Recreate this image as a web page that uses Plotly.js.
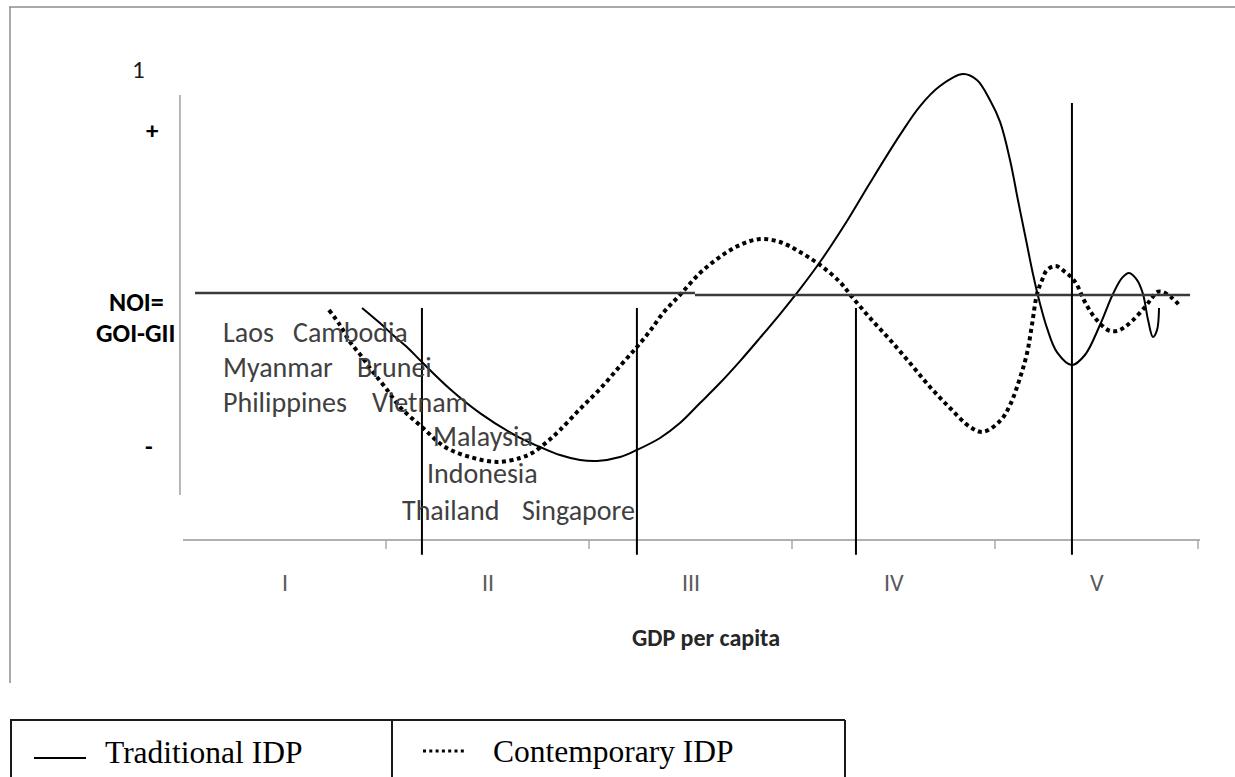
<!DOCTYPE html>
<html>
<head>
<meta charset="utf-8">
<script src="https://cdn.plot.ly/plotly-3.0.1.min.js"></script>
<style>
  html, body { margin: 0; padding: 0; background: #ffffff; }
  #chart { width: 1235px; height: 777px; }
</style>
</head>
<body>
<div id="chart"></div>
<script>
// ---------------- DATA ----------------
// x: GDP per capita in "stage" units (each IDP stage = 1 unit), y: NOI (NOI line = 0, "+" = 1)
const traditionalX = [0.882,0.970,1.034,1.108,1.177,1.315,1.463,1.660,1.759,1.857,
  1.956,2.039,2.153,2.236,2.350,2.448,2.547,2.645,2.744,2.842,
  2.941,3.039,3.138,3.271,3.384,3.532,3.631,3.729,3.842,3.911,
  3.975,4.025,4.074,4.113,4.153,4.187,4.222,4.256,4.305,4.379,
  4.443,4.517,4.581,4.626,4.660,4.700,4.729,4.754,4.778,4.798,4.808];
const traditionalY = [-0.085,-0.177,-0.250,-0.329,-0.415,-0.579,-0.726,-0.878,-0.933,-0.982,
  -1.012,-1.018,-0.994,-0.951,-0.878,-0.787,-0.665,-0.543,-0.409,-0.268,
  -0.122,0.030,0.195,0.445,0.677,0.970,1.146,1.268,1.341,1.305,
  1.183,1.049,0.817,0.573,0.329,0.122,-0.061,-0.207,-0.354,-0.433,
  -0.372,-0.189,0.000,0.098,0.128,0.085,0.000,-0.159,-0.262,-0.220,-0.085];

const contemporaryX = [0.719,0.773,0.823,0.882,0.936,0.995,1.069,1.177,1.291,1.414,
  1.547,1.660,1.719,1.793,1.857,1.956,2.054,2.153,2.236,2.300,
  2.365,2.448,2.547,2.645,2.744,2.842,2.941,3.039,3.138,3.236,
  3.296,3.384,3.483,3.581,3.680,3.778,3.877,3.941,4.025,4.074,
  4.123,4.158,4.182,4.207,4.232,4.256,4.300,4.345,4.379,4.404,
  4.443,4.493,4.557,4.601,4.640,4.680,4.739,4.773,4.798,4.828,4.872,4.911];
const contemporaryY = [-0.098,-0.189,-0.293,-0.384,-0.476,-0.567,-0.689,-0.811,-0.933,-0.994,
  -1.024,-1.000,-0.970,-0.902,-0.829,-0.701,-0.579,-0.439,-0.323,-0.226,
  -0.116,-0.006,0.128,0.226,0.299,0.335,0.317,0.256,0.177,0.073,
  -0.018,-0.146,-0.280,-0.421,-0.567,-0.695,-0.811,-0.841,-0.774,-0.677,
  -0.512,-0.360,-0.189,0.000,0.085,0.146,0.171,0.134,0.098,0.055,
  -0.049,-0.146,-0.220,-0.226,-0.201,-0.159,-0.079,-0.024,0.012,0.012,-0.024,-0.073];

const stageLabels = ['I', 'II', 'III', 'IV', 'V'];
const stageCenters = [0.5, 1.5, 2.5, 3.5, 4.5];
const stageTicks = [1, 2, 3, 4, 5];
const stageBoundaries = [1.177, 2.236, 3.315, 4.379];
const countryWords = ['Laos', 'Cambodia', 'Myanmar', 'Brunei', 'Philippines', 'Vietnam',
                      'Malaysia', 'Indonesia', 'Thailand', 'Singapore'];
const seriesNames = ['Traditional IDP', 'Contemporary IDP'];
const yLabels = ['1', '+', '-'];
const noiLabel = ['NOI=', 'GOI-GII'];
const xTitle = 'GDP per capita';

// ---------------- LAYOUT HELPERS ----------------
const W = 1235, H = 777;
const PX = x => x / W;          // page pixel -> paper x
const PY = y => 1 - y / H;      // page pixel -> paper y
const sansFont = 'Carlito, Lato, "Open Sans", sans-serif';
const serifFont = '"Liberation Serif", "Times New Roman", serif';

// word placement (left edge px, center y px)
const wordPos = [[223,332],[293,332],[223,367],[357,367],[223,402],[372,402],
                 [433,437],[427,473],[402,510],[522,510]];

const traces = [
  {x: traditionalX, y: traditionalY, name: seriesNames[0], type: 'scatter', mode: 'lines',
   line: {color: '#000000', width: 2, shape: 'spline', smoothing: 1}, hoverinfo: 'skip'},
  {x: contemporaryX, y: contemporaryY, name: seriesNames[1], type: 'scatter', mode: 'lines',
   line: {color: '#000000', width: 4, dash: '4px,3.5px', shape: 'spline', smoothing: 1}, hoverinfo: 'skip'}
];

const shapes = [];
// outer frame (top and left)
shapes.push({type:'line', xref:'paper', yref:'paper', x0:PX(9), x1:PX(1235), y0:PY(7), y1:PY(7),
             line:{color:'#8c8c8c', width:1.5}});
shapes.push({type:'line', xref:'paper', yref:'paper', x0:PX(10), x1:PX(10), y0:PY(7), y1:PY(683),
             line:{color:'#8c8c8c', width:1.5}});
// y axis line
shapes.push({type:'line', xref:'x', yref:'y', x0:-0.015, x1:-0.015, y0:1.213, y1:-1.226,
             line:{color:'#a0a0a0', width:1.5}});
// x axis line
shapes.push({type:'line', xref:'x', yref:'y', x0:0, x1:5.01, y0:-1.5, y1:-1.5,
             line:{color:'#b0b0b0', width:2}});
stageTicks.forEach(t => shapes.push({type:'line', xref:'x', yref:'y', x0:t, x1:t, y0:-1.5, y1:-1.555,
             line:{color:'#a8a8a8', width:1.5}}));
// NOI = 0 line
shapes.push({type:'line', xref:'x', yref:'y', x0:0.059, x1:2.522, y0:0.006, y1:0.006,
             line:{color:'#3a3a3a', width:2.5}});
shapes.push({type:'line', xref:'x', yref:'y', x0:2.522, x1:4.961, y0:-0.006, y1:-0.006,
             line:{color:'#3a3a3a', width:2.5}});
// stage boundaries
stageBoundaries.forEach((b, i) => shapes.push({type:'line', xref:'x', yref:'y', x0:b, x1:b,
             y0: i === stageBoundaries.length - 1 ? 1.165 : -0.085, y1:-1.59,
             line:{color:'#000000', width:2}}));
// legend box
shapes.push({type:'line', xref:'paper', yref:'paper', x0:PX(10), x1:PX(845), y0:PY(720), y1:PY(720),
             line:{color:'#1a1a1a', width:2}});
[11, 392, 845].forEach(x => shapes.push({type:'line', xref:'paper', yref:'paper', x0:PX(x), x1:PX(x),
             y0:PY(720), y1:PY(778), line:{color:'#1a1a1a', width:2}}));
// legend samples
shapes.push({type:'line', xref:'paper', yref:'paper', x0:PX(34), x1:PX(86), y0:PY(758), y1:PY(758),
             line:{color:'#000000', width:2}});
shapes.push({type:'line', xref:'paper', yref:'paper', x0:PX(423), x1:PX(467), y0:PY(751), y1:PY(751),
             line:{color:'#000000', width:3, dash:'3px,3.3px'}});

const annotations = [];
const ann = (text, x, y, xanchor, size, color, bold, family) => annotations.push({
  text: bold ? '<b>' + text + '</b>' : text, xref:'paper', yref:'paper', x:PX(x), y:PY(y),
  xanchor: xanchor, yanchor:'middle', showarrow:false,
  font:{family: family || sansFont, size: size, color: color}});

countryWords.forEach((w, i) => ann(w, wordPos[i][0] - 2, wordPos[i][1], 'left', 28, '#404040', false));
stageLabels.forEach((s, i) => annotations.push({text: s, xref:'x', yref:'y', x: stageCenters[i], y: -1.762,
  xanchor:'center', yanchor:'middle', showarrow:false, font:{family: sansFont, size: 24, color:'#595959'}}));
ann(xTitle, 706, 637, 'center', 24, '#262626', true);
ann(yLabels[0], 138, 70, 'center', 25, '#1a1a1a', false);
ann(yLabels[1], 152, 131, 'center', 25, '#000000', true);
ann(yLabels[2], 149, 446, 'center', 25, '#000000', true);
ann(noiLabel[0], 166, 302, 'right', 26, '#000000', true);
ann(noiLabel[1], 177, 333, 'right', 26, '#000000', true);
ann(seriesNames[0], 103, 752, 'left', 31.5, '#000000', false, serifFont);
ann(seriesNames[1], 491, 751, 'left', 31.5, '#000000', false, serifFont);

const layout = {
  width: W, height: H,
  margin: {l:0, r:0, t:0, b:0, pad:0},
  paper_bgcolor: '#ffffff', plot_bgcolor: '#ffffff',
  showlegend: false,
  xaxis: {range: [-183/203, 1052/203], visible: false, fixedrange: true},
  yaxis: {range: [-483/164, 294/164], visible: false, fixedrange: true},
  shapes: shapes,
  annotations: annotations
};

Plotly.newPlot('chart', traces, layout, {staticPlot: true, displayModeBar: false});
</script>
</body>
</html>
